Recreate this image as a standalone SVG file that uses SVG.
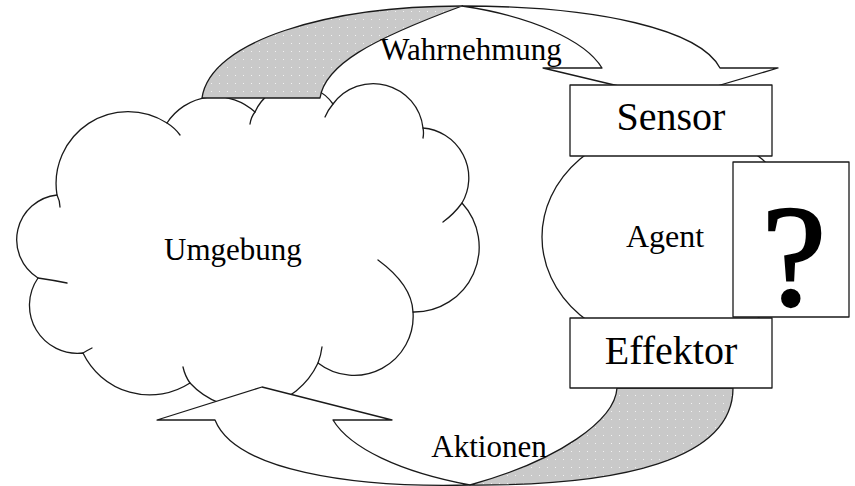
<svg xmlns="http://www.w3.org/2000/svg" width="855" height="486" viewBox="0 0 855 486">
<style>
.ln{stroke:#1a1a1a;stroke-width:1.3;stroke-linejoin:round;stroke-linecap:round}
.wf{fill:#ffffff}
.nf{fill:none}
.gf{fill:url(#dots)}
.t{font-family:"Liberation Serif","Times New Roman",serif;fill:#000;text-anchor:middle}
.t30{font-size:31px}
.t40{font-size:40px}
</style>
<defs>
<pattern id="dots" width="8" height="8" patternUnits="userSpaceOnUse">
<rect width="8" height="8" fill="#c9c9c9"/>
<rect x="3" y="3" width="1" height="1" fill="#f2f2f2"/>
</pattern>
</defs>
<rect width="855" height="486" fill="#ffffff"/>

<g id="umgebung">
<path class="ln wf" d="M167,123 A58,58 0 0 1 255,112 A45,45 0 0 1 333,104 A50,50 0 0 1 423,128 A50,50 0 0 1 462,203 A65,65 0 0 1 413,312 A59,59 0 0 1 318,363 A78,78 0 0 1 190,383 A74,74 0 0 1 83,353 A48,48 0 0 1 38,278 A45,45 0 0 1 57,195 A72,72 0 0 1 167,123 Z"/>
<path class="ln nf" d="M167,123 Q175,128 180,135 M255,112 Q251,117 250,124 M333,104 Q328,110 325,117 M423,128 Q424,133 423,138 M462,203 Q454,214 443,222 M413,312 Q412,285 378,260 M318,363 Q321,355 322,347 M190,383 Q185,376 183,367 M83,353 Q88,350 92,348 M38,278 Q52,280 67,283 M57,195 Q60,201 60,207"/>
<text class="t t30" x="233" y="260">Umgebung</text>
</g>

<g id="agent">
<ellipse class="ln wf" cx="671" cy="237" rx="129" ry="110"/>
<text class="t" style="font-size:32px" x="665" y="247">Agent</text>
</g>

<g id="frage">
<rect class="ln wf" x="733" y="162" width="116" height="155"/>
<text class="t" style="font-size:144px;stroke:#000;stroke-width:2.5" x="794" y="305">?</text>
</g>

<g id="connectors">
<g id="wahrnehmung">
<path class="ln gf" d="M202,98 C210,40 330,6 462,6 C370,40 325,65 320,98 Z"/>
<path class="ln wf" d="M462,6 C600,6 700,30 720,68 L778,68 L673,99 L543,68 L602,68 C585,40 530,16 462,6 Z"/>
<text class="t t30" x="471" y="60">Wahrnehmung</text>
</g>
<g id="aktionen">
<path class="ln gf" d="M470,485 C620,486 733,460 733,388 L617,388 C615,420 560,460 470,485 Z"/>
<path class="ln wf" d="M215,420 L157,420 L262,387 L392,420 L333,420 C350,448 400,472 470,485 C350,488 235,470 215,420 Z"/>
<text class="t t30" x="489" y="457">Aktionen</text>
</g>
</g>

<g id="sensor">
<rect class="ln wf" x="570" y="85" width="202" height="71"/>
<text class="t t40" x="671" y="130">Sensor</text>
</g>

<g id="effektor">
<rect class="ln wf" x="570" y="318" width="202" height="70"/>
<text class="t t40" x="671" y="364">Effektor</text>
</g>
</svg>
